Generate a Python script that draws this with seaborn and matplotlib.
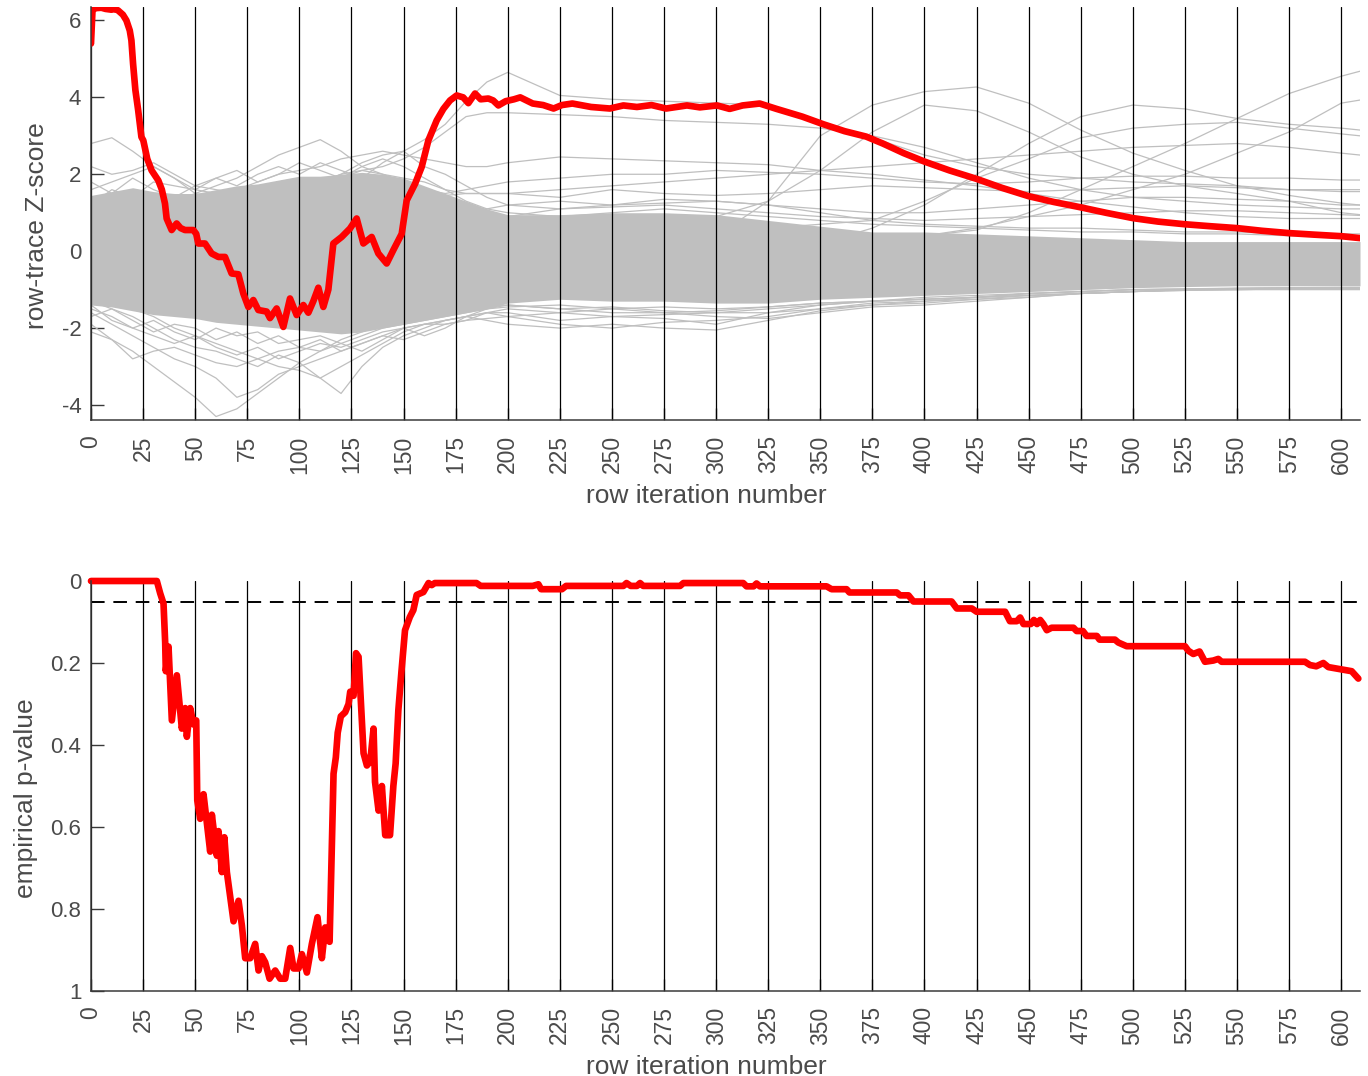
import numpy as np
import pandas as pd
import matplotlib
matplotlib.use("Agg")
import matplotlib.pyplot as plt
import seaborn as sns

# ---------------- data ----------------
# red observed trace (top panel)
red_x = [0, 0.7, 2, 5, 7, 9.8, 11.5, 13, 15.3, 17, 18.6, 19.4, 20.2, 21.3, 22.6, 24.2,
         25.1, 27, 29.1, 32.3, 34, 35.5, 36.3, 38.7, 41.1, 43, 45.1, 49.1, 50.5, 51.5,
         54.7, 57.9, 61.1, 64.3, 67.5, 70.7, 73.1, 75.5, 77.9, 80.3, 84.3, 85.9, 89.1,
         92.3, 95.5, 98.7, 101.9, 104.3, 106.7, 109.1, 111.5, 113.9, 116.3, 120.3, 124.3,
         127.5, 130.7, 134.7, 137.9, 141.9, 145.1, 149.1, 151.5, 155.5, 158.7, 161.9,
         165.9, 169.1, 172.3, 175.5, 178.6, 181.1, 184.3, 187, 190.7, 193, 195.5, 199,
         203, 206, 212, 217, 222, 226, 231, 240, 249, 255.5, 262, 269, 276, 281, 286,
         292.2, 300.4, 306.5, 312.7, 320.9, 329, 341.3, 351.5, 361.7, 372, 380, 390, 400,
         412, 425, 437, 450, 462, 475, 487, 500, 512, 525, 537, 550, 562, 575, 587, 600, 609]
red_z = [5.4, 6.25, 6.32, 6.33, 6.3, 6.28, 6.3, 6.26, 6.15, 6.0, 5.74, 5.48, 4.87, 4.19,
         3.68, 2.97, 2.88, 2.4, 2.1, 1.84, 1.6, 1.24, 0.85, 0.55, 0.72, 0.6, 0.55, 0.55,
         0.45, 0.2, 0.2, -0.06, -0.15, -0.15, -0.58, -0.6, -1.1, -1.45, -1.27, -1.53,
         -1.57, -1.74, -1.49, -1.97, -1.23, -1.66, -1.4, -1.6, -1.3, -0.95, -1.45, -1.0,
         0.2, 0.37, 0.59, 0.85, 0.2, 0.37, -0.06, -0.32, 0.03, 0.45, 1.32, 1.75, 2.19,
         2.88, 3.4, 3.7, 3.92, 4.05, 4.0, 3.85, 4.1, 3.95, 3.97, 3.92, 3.79, 3.9, 3.95,
         4.0, 3.84, 3.8, 3.71, 3.8, 3.84, 3.75, 3.71, 3.79, 3.75, 3.8, 3.71, 3.75, 3.79,
         3.74, 3.79, 3.7, 3.79, 3.84, 3.7, 3.5, 3.3, 3.12, 2.98, 2.8, 2.55, 2.33, 2.1,
         1.88, 1.65, 1.43, 1.28, 1.14, 1.0, 0.86, 0.77, 0.7, 0.65, 0.6, 0.53, 0.47, 0.43,
         0.39, 0.34]

# empirical p-value (bottom panel)
p_x = [0, 31.6, 33.2, 34.8, 35.6, 35.9, 37.2, 38.8, 41.2, 43.6, 45.2, 46, 47.6, 49.2,
       50.5, 51, 52.4, 54, 57.2, 58, 60.4, 61.2, 62.8, 64, 65.2, 66.8, 68.4, 70.8, 72.4,
       74, 76.4, 78.8, 80.4, 82, 83.6, 85.7, 88.4, 90.8, 93.2, 95.6, 97.2, 99.6, 101.2,
       103.6, 106, 108.7, 110.8, 112.4, 114.5, 116.4, 117.5, 118.4, 119.9, 122, 123.6,
       124.4, 126, 127.2, 128.4, 130.8, 132.4, 134, 135.6, 136.3, 138, 139.6, 141.2,
       143.5, 145.1, 146.2, 147.5, 149, 150.7, 153, 154.7, 156.3, 159.5, 162, 163.5, 165,
       185, 187, 212, 214.7, 216, 226, 228, 255.5, 257, 259, 262, 263.5, 265, 282.7,
       284.3, 313, 314.6, 318, 319.4, 321, 353, 355.4, 362.6, 364, 386.7, 388.3, 392.3,
       394.7, 413, 415.5, 422.7, 425, 438.7, 441, 444.3, 445.9, 447.5, 451, 452.5, 454,
       455.5, 457, 458.7, 461, 471.5, 473, 476, 477.8, 482.7, 484, 491.4, 493, 497, 525,
       526.6, 529, 532, 534.6, 538.6, 541, 542.6, 582.6, 585, 588, 591.4, 593.8, 605, 608.2]
p_val = [0.0, 0.0, 0.03, 0.055, 0.15, 0.22, 0.16, 0.34, 0.23, 0.36, 0.31, 0.38, 0.31,
         0.35, 0.34, 0.535, 0.58, 0.52, 0.66, 0.57, 0.67, 0.61, 0.71, 0.625, 0.71, 0.77,
         0.83, 0.78, 0.84, 0.92, 0.92, 0.885, 0.95, 0.915, 0.93, 0.97, 0.95, 0.97, 0.97,
         0.895, 0.945, 0.945, 0.91, 0.955, 0.885, 0.82, 0.92, 0.845, 0.88, 0.47, 0.43,
         0.37, 0.33, 0.32, 0.30, 0.27, 0.28, 0.176, 0.185, 0.42, 0.45, 0.44, 0.36, 0.49,
         0.56, 0.50, 0.62, 0.62, 0.50, 0.445, 0.315, 0.22, 0.12, 0.088, 0.071, 0.034,
         0.027, 0.005, 0.01, 0.005, 0.005, 0.012, 0.012, 0.008, 0.02, 0.02, 0.012, 0.012,
         0.005, 0.012, 0.012, 0.005, 0.012, 0.012, 0.005, 0.005, 0.013, 0.013, 0.006,
         0.013, 0.013, 0.02, 0.02, 0.028, 0.028, 0.035, 0.035, 0.05, 0.05, 0.067, 0.067,
         0.075, 0.075, 0.098, 0.098, 0.089, 0.105, 0.105, 0.095, 0.105, 0.095, 0.105,
         0.12, 0.114, 0.114, 0.122, 0.122, 0.134, 0.134, 0.143, 0.143, 0.15, 0.159, 0.159,
         0.17, 0.178, 0.172, 0.197, 0.194, 0.19, 0.197, 0.197, 0.205, 0.208, 0.2, 0.21,
         0.22, 0.238]
p_threshold = 0.05

# null (permutation) traces, sampled on a common grid of row numbers
null_x = [0, 10, 20, 30, 40, 50, 60, 70, 80, 90, 100, 110, 120, 130, 140, 150, 160, 170,
          180, 190, 200, 225, 250, 275, 300, 325, 350, 375, 400, 425, 450, 475, 500, 525,
          550, 575, 600, 609]
# dense core of the null traces (upper / lower edge)
core_hi = [1.45, 1.55, 1.65, 1.55, 1.5, 1.5, 1.6, 1.7, 1.75, 1.85, 1.95, 1.95, 2.0, 2.05,
           2.0, 1.9, 1.7, 1.5, 1.3, 1.1, 0.95, 0.95, 1.0, 1.0, 0.95, 0.8, 0.65, 0.5, 0.5,
           0.45, 0.4, 0.35, 0.3, 0.25, 0.25, 0.25, 0.25, 0.25]
core_lo = [-1.4, -1.45, -1.55, -1.65, -1.7, -1.75, -1.85, -1.9, -1.95, -2.0, -2.05, -2.1,
           -2.15, -2.1, -2.0, -1.9, -1.8, -1.7, -1.6, -1.5, -1.35, -1.25, -1.3, -1.3, -1.35,
           -1.35, -1.25, -1.2, -1.15, -1.1, -1.05, -1.0, -0.95, -0.92, -0.9, -0.9, -0.9, -0.9]
# individual outlying null traces
null_01 = [2.8, 2.95, 2.6, 2.2, 1.9, 1.6, 1.5, 1.4, 1.3, 1.2, 1.1, 1.0, 1.0, 0.9, 0.9, 0.8, 0.8, 0.7, 0.7, 0.8, 0.9,
           1.1, 1.15, 1.2, 1.1, 1.0, 0.9, 0.85, 0.8, 0.85, 0.9, 0.95, 1.0, 1.05, 1.05, 1.0, 0.95, 0.93]
null_02 = [2.2, 2.0, 2.1, 2.3, 2.0, 1.7, 1.6, 1.5, 1.6, 1.8, 1.9, 1.7, 1.5, 1.4, 1.3, 1.2, 1.1, 1.0, 1.0, 1.1, 1.2,
           1.3, 1.2, 1.35, 1.3, 1.2, 1.1, 1.0, 1.0, 1.1, 1.2, 1.3, 1.4, 1.4, 1.35, 1.3, 1.2, 1.2]
null_03 = [1.6, 1.8, 2.0, 2.2, 1.9, 1.5, 1.4, 1.3, 1.2, 1.4, 1.6, 1.8, 2.0, 2.1, 2.0, 1.9, 1.8, 1.6, 1.5, 1.5, 1.5,
           1.4, 1.6, 1.5, 1.45, 1.5, 1.6, 1.7, 1.65, 1.6, 1.55, 1.6, 1.65, 1.7, 1.65, 1.6, 1.6, 1.6]
null_04 = [0.8, 1.0, 1.1, 1.2, 1.3, 1.5, 1.7, 1.9, 2.2, 2.5, 2.7, 2.9, 2.6, 2.2, 2.0, 1.8, 1.6, 1.5, 1.6, 1.7, 1.8,
           1.9, 2.0, 2.0, 2.1, 2.05, 2.0, 1.9, 1.8, 1.75, 1.8, 1.9, 1.95, 1.95, 1.9, 1.9, 1.85, 1.85]
null_05 = [0.5, 0.7, 0.9, 1.1, 1.3, 1.2, 1.4, 1.6, 1.8, 2.0, 2.1, 2.2, 2.4, 2.5, 2.6, 2.5, 2.4, 2.3, 2.2, 2.2, 2.3,
           2.45, 2.4, 2.35, 2.3, 2.25, 2.1, 2.0, 1.85, 1.7, 1.5, 1.3, 1.15, 1.0, 0.9, 0.85, 0.85, 0.85]
null_06 = [0.0, 0.2, 0.4, 0.6, 0.5, 0.7, 0.9, 1.1, 1.2, 1.4, 1.6, 1.8, 2.0, 2.3, 2.5, 2.6, 2.9, 3.3, 3.9, 4.4, 4.65,
           4.05, 3.95, 3.9, 3.85, 3.8, 3.35, 2.95, 2.5, 2.2, 2.0, 1.9, 1.8, 1.75, 1.7, 1.6, 1.55, 1.55]
null_07 = [0.3, 0.1, 0.3, 0.5, 0.8, 0.9, 1.0, 1.2, 1.4, 1.3, 1.5, 1.7, 1.9, 2.1, 2.2, 2.4, 2.7, 3.1, 3.5, 3.6, 3.6,
           3.55, 3.5, 3.4, 3.35, 3.3, 3.2, 3.0, 2.7, 2.3, 1.9, 1.6, 1.4, 1.3, 1.2, 1.15, 1.1, 1.1]
null_08 = [-2.1, -2.3, -2.6, -3.0, -3.4, -3.8, -4.3, -4.1, -3.7, -3.3, -2.9, -2.6, -2.3, -2.1, -1.9, -1.8, -1.7, -1.6, -1.5, -1.45, -1.4,
           -1.5, -1.6, -1.6, -1.7, -1.75, -1.6, -1.45, -1.4, -1.3, -1.2, -1.1, -1.05, -1.0, -0.98, -0.95, -0.95, -0.95]
null_09 = [-1.6, -1.9, -2.2, -2.5, -2.8, -3.0, -3.3, -3.8, -3.6, -3.2, -3.0, -2.8, -2.6, -2.4, -2.2, -2.0, -1.9, -1.8, -1.7, -1.6, -1.6,
           -1.8, -1.7, -1.75, -1.9, -1.6, -1.4, -1.3, -1.25, -1.2, -1.1, -1.05, -1.0, -1.0, -0.98, -0.97, -0.97, -0.97]
null_10 = [-1.0, -1.2, -1.5, -1.7, -2.0, -2.2, -2.4, -2.6, -2.8, -3.0, -3.1, -3.3, -3.7, -3.0, -2.5, -2.2, -2.0, -1.8, -1.7, -1.8, -1.9,
           -2.0, -1.9, -2.0, -2.05, -1.8, -1.55, -1.4, -1.35, -1.25, -1.15, -1.1, -1.05, -1.02, -1.0, -1.0, -1.0, -1.0]
null_11 = [-1.9, -2.3, -2.8, -2.6, -2.5, -2.7, -2.9, -3.0, -2.8, -2.6, -2.5, -2.6, -2.4, -2.2, -2.0, -1.9, -1.8, -1.7, -1.6, -1.5, -1.45,
           -1.4, -1.5, -1.45, -1.5, -1.45, -1.35, -1.3, -1.2, -1.15, -1.1, -1.05, -1.0, -0.98, -0.96, -0.95, -0.94, -0.94]
null_12 = [-1.3, -1.5, -1.7, -2.0, -2.3, -2.5, -2.6, -2.8, -3.0, -2.7, -2.9, -3.3, -3.0, -2.7, -2.4, -2.1, -1.9, -1.8, -1.7, -1.6, -1.7,
           -1.9, -2.0, -1.85, -1.8, -1.7, -1.5, -1.35, -1.3, -1.2, -1.15, -1.1, -1.05, -1.0, -1.0, -0.98, -0.98, -0.98]
null_13 = [-1.5, -1.7, -2.0, -2.2, -2.4, -2.2, -2.5, -2.7, -2.5, -2.8, -2.6, -2.4, -2.5, -2.3, -2.1, -2.0, -1.9, -1.9, -1.8, -1.75, -1.7,
           -1.6, -1.5, -1.6, -1.55, -1.45, -1.35, -1.3, -1.25, -1.2, -1.1, -1.05, -1.0, -0.98, -0.97, -0.96, -0.96, -0.96]
null_14 = [0.2, 0.0, -0.3, -0.1, 0.2, 0.0, -0.2, 0.1, 0.3, 0.0, -0.2, 0.1, 0.3, 0.2, 0.0, 0.2, 0.4, 0.3, 0.2, 0.3, 0.3,
           0.2, 0.1, 0.2, 0.1, 0.2, 0.3, 0.35, 0.4, 0.55, 1.0, 1.6, 2.2, 2.8, 3.45, 4.1, 4.55, 4.68]
null_15 = [-0.5, -0.3, 0.0, 0.3, 0.1, -0.2, 0.0, 0.3, 0.5, 0.2, 0.0, -0.3, -0.1, 0.1, 0.3, 0.2, 0.0, 0.1, 0.0, 0.0, 0.0,
           0.1, 0.0, -0.1, 0.0, 0.1, 0.2, 0.3, 0.4, 0.6, 0.9, 1.2, 1.6, 2.0, 2.55, 3.1, 3.85, 3.93]
null_16 = [-0.8, -0.5, -0.2, 0.0, -0.3, -0.6, -0.4, -0.1, 0.2, 0.4, 0.1, -0.2, 0.0, 0.3, 0.1, -0.1, -0.3, -0.2, -0.2, -0.2, -0.2,
           0.0, 0.1, 0.2, 0.4, 1.3, 3.0, 3.8, 4.15, 4.27, 3.85, 3.15, 2.55, 2.1, 1.7, 1.45, 1.25, 1.2]
null_17 = [0.6, 0.9, 0.7, 0.4, 0.6, 0.9, 1.1, 0.8, 0.5, 0.7, 1.0, 1.2, 0.9, 0.6, 0.8, 0.7, 0.6, 0.5, 0.5, 0.5, 0.5,
           0.6, 0.7, 0.8, 0.9, 1.3, 2.1, 3.1, 3.8, 3.65, 3.1, 2.45, 2.0, 1.7, 1.5, 1.3, 1.0, 0.95]
null_18 = [-0.3, 0.0, 0.3, 0.1, -0.2, -0.4, -0.1, 0.2, 0.0, -0.3, -0.5, -0.2, 0.1, -0.1, -0.3, -0.4, -0.5, -0.5, -0.5, -0.5, -0.5,
           -0.4, -0.3, -0.2, -0.1, 0.0, 0.2, 0.6, 1.2, 2.0, 2.8, 3.5, 3.8, 3.7, 3.45, 3.3, 3.2, 3.15]
null_19 = [0.4, 0.2, 0.5, 0.7, 0.4, 0.1, 0.3, 0.6, 0.8, 0.5, 0.2, 0.4, 0.7, 0.5, 0.3, 0.2, 0.2, 0.2, 0.2, 0.2, 0.2,
           0.3, 0.35, 0.4, 0.5, 0.6, 0.7, 0.8, 1.3, 1.9, 2.4, 2.95, 3.2, 3.3, 3.35, 3.2, 3.05, 3.0]
null_20 = [1.0, 1.2, 0.9, 0.6, 0.8, 1.1, 1.3, 1.0, 0.7, 0.9, 1.2, 1.0, 0.8, 1.0, 1.2, 1.3, 1.4, 1.45, 1.5, 1.5, 1.5,
           1.6, 1.7, 1.8, 1.9, 2.0, 2.1, 2.2, 2.3, 2.4, 2.5, 2.6, 2.7, 2.75, 2.8, 2.7, 2.55, 2.5]
null_21 = [1.8, 1.5, 1.9, 1.6, 1.4, 1.7, 1.9, 2.1, 1.8, 2.0, 2.3, 2.1, 1.9, 2.2, 2.4, 2.2, 1.9, 1.6, 1.3, 1.1, 1.0,
           0.9, 1.0, 1.1, 1.0, 0.9, 0.8, 0.7, 0.65, 0.6, 0.55, 0.5, 0.5, 0.45, 0.45, 0.4, 0.4, 0.4]
null_22 = [-1.7, -1.5, -1.8, -2.1, -1.9, -2.0, -2.3, -2.1, -2.4, -2.2, -2.5, -2.3, -2.6, -2.4, -2.2, -2.3, -2.1, -1.9, -1.8, -1.6, -1.5,
           -1.6, -1.7, -1.65, -1.6, -1.5, -1.4, -1.3, -1.25, -1.2, -1.15, -1.1, -1.05, -1.0, -0.97, -0.96, -0.95, -0.95]
null_23 = [1.2, 1.6, 1.4, 1.8, 1.7, 1.6, 1.9, 1.7, 2.0, 2.2, 2.0, 2.3, 2.1, 1.9, 2.3, 2.6, 2.2, 2.0, 1.7, 1.4, 1.2,
           1.1, 1.2, 1.25, 1.3, 1.2, 1.0, 0.8, 0.7, 0.65, 0.6, 0.6, 0.55, 0.5, 0.5, 0.45, 0.45, 0.45]
null_24 = [-1.4, -1.8, -2.0, -1.8, -2.1, -2.3, -2.0, -2.2, -2.1, -2.4, -2.3, -2.2, -2.4, -2.6, -2.3, -2.0, -2.2, -2.0, -1.7, -1.5, -1.4,
           -1.5, -1.45, -1.55, -1.6, -1.6, -1.5, -1.4, -1.3, -1.25, -1.2, -1.1, -1.05, -1.02, -1.0, -0.98, -0.97, -0.97]

null_traces = {"n01": null_01, "n02": null_02, "n03": null_03, "n04": null_04,
               "n05": null_05, "n06": null_06, "n07": null_07, "n08": null_08,
               "n09": null_09, "n10": null_10, "n11": null_11, "n12": null_12,
               "n13": null_13, "n14": null_14, "n15": null_15, "n16": null_16,
               "n17": null_17, "n18": null_18, "n19": null_19, "n20": null_20,
               "n21": null_21, "n22": null_22, "n23": null_23, "n24": null_24}

x_ticks = list(range(0, 601, 25))
z_ticks = [-4, -2, 0, 2, 4, 6]
p_ticks = [0, 0.2, 0.4, 0.6, 0.8, 1]
p_tick_labels = ["0", "0.2", "0.4", "0.6", "0.8", "1"]

# ---------------- style ----------------
sns.set_theme(style="white")
plt.rcParams["font.family"] = ["Liberation Sans", "DejaVu Sans"]
plt.rcParams["axes.unicode_minus"] = False

TXT = "#4a4a4a"
SPINE = "#3a3a3a"
GRAY = "#bfbfbf"

fig = plt.figure(figsize=(13.68, 10.76), dpi=100)
ax1 = fig.add_axes([91 / 1368, 1 - 420 / 1076, 1269 / 1368, 413 / 1076])
ax2 = fig.add_axes([91 / 1368, 1 - 991 / 1076, 1269 / 1368, 410 / 1076])

# long-form null data for seaborn
rows = []
for name, vals in null_traces.items():
    for xv, zv in zip(null_x, vals):
        rows.append((name, xv, zv))
null_df = pd.DataFrame(rows, columns=["trace", "row", "z"])

# ---- top panel ----
ax1.fill_between(null_x, core_lo, core_hi, color=GRAY, lw=0, zorder=1.0)
sns.lineplot(data=null_df, x="row", y="z", units="trace", estimator=None,
             color=GRAY, lw=0.9, ax=ax1, zorder=1.5, legend=False)
sns.lineplot(x=red_x, y=red_z, color="red", lw=4.8, ax=ax1, zorder=4,
             estimator=None, sort=False)

# ---- bottom panel ----
sns.lineplot(x=p_x, y=p_val, color="red", lw=4.8, ax=ax2, zorder=4,
             estimator=None, sort=False, clip_on=False)
ax2.axhline(p_threshold, color="black", lw=1.4, dashes=(7, 4.5), zorder=3)

for ax in (ax1, ax2):
    ax.set_xlim(0, 609)
    ax.set_xticks(x_ticks)
    ax.set_xticklabels([str(t) for t in x_ticks], rotation=90)
    ax.grid(False)
    # vertical reference lines at each x tick, drawn above the null traces
    for t in x_ticks:
        ax.axvline(t, color="black", lw=0.9, zorder=3)
    for s in ("top", "right"):
        ax.spines[s].set_visible(False)
    for s in ("left", "bottom"):
        ax.spines[s].set_color(SPINE)
        ax.spines[s].set_linewidth(1.1)
        ax.spines[s].set_zorder(5)
    ax.tick_params(axis="both", direction="in", length=9, width=1.0, color=SPINE,
                   labelcolor=TXT, labelsize=16)
    ax.tick_params(axis="y", pad=7, left=True)
    ax.tick_params(axis="x", pad=11, bottom=True, labelsize=16.5)
    ax.set_xlabel("row iteration number", fontsize=19, color=TXT)
    ax.xaxis.set_label_coords(0.485, -0.155)

ax1.set_ylim(-4.39, 6.35)
ax1.set_yticks(z_ticks)
ax1.set_yticklabels([str(t) for t in z_ticks])
ax1.set_ylabel("row-trace Z-score", fontsize=19, color=TXT)
ax1.yaxis.set_label_coords(-0.033, 0.47)

ax2.set_ylim(1, 0)
ax2.set_yticks(p_ticks)
ax2.set_yticklabels(p_tick_labels)
ax2.set_ylabel("empirical p-value", fontsize=19, color=TXT)
ax2.yaxis.set_label_coords(-0.042, 0.47)

fig.savefig("out.png", dpi=100)
